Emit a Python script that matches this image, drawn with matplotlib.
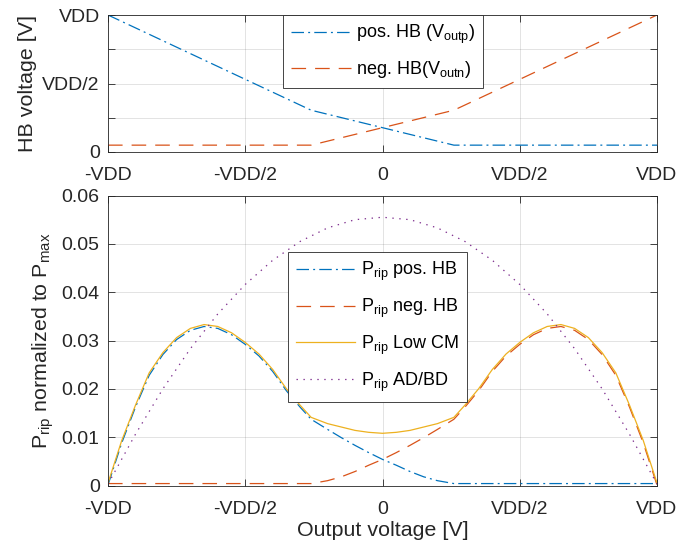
import matplotlib
matplotlib.use('Agg')
import matplotlib.pyplot as plt

# --- data ----------------------------------------------------------------
# upper plot: half-bridge voltages, normalised to VDD
x_hb = [-1.0, -0.26, 0.26, 1.0]
v_outp = [1.0, 0.305, 0.05, 0.05]
v_outn = [0.05, 0.05, 0.305, 1.0]

# lower plot: ripple power normalised to P_max
x_rip = [-1.00, -0.95, -0.90, -0.85, -0.80, -0.75, -0.70, -0.65, -0.60,
         -0.55, -0.50, -0.45, -0.40, -0.35, -0.30, -0.26, -0.20, -0.15,
         -0.10, -0.05, 0.00, 0.05, 0.10, 0.15, 0.20, 0.26, 0.30, 0.35,
         0.40, 0.45, 0.50, 0.55, 0.60, 0.65, 0.70, 0.75, 0.80, 0.85,
         0.90, 0.95, 1.00]
p_pos_hb = [0.0001, 0.0088, 0.0162, 0.0228, 0.0271, 0.0302, 0.0321, 0.0329,
            0.0325, 0.0312, 0.0292, 0.0268, 0.0236, 0.0196, 0.0162, 0.0137,
            0.0116, 0.0099, 0.0083, 0.0068, 0.0054, 0.0042, 0.0029, 0.0018,
            0.0010, 0.0004, 0.0004, 0.0004, 0.0004, 0.0004, 0.0004, 0.0004,
            0.0004, 0.0004, 0.0004, 0.0004, 0.0004, 0.0004, 0.0004, 0.0004,
            0.0004]
p_neg_hb = [0.0004, 0.0004, 0.0004, 0.0004, 0.0004, 0.0004, 0.0004, 0.0004,
            0.0004, 0.0004, 0.0004, 0.0004, 0.0004, 0.0004, 0.0004, 0.0004,
            0.0010, 0.0018, 0.0029, 0.0042, 0.0054, 0.0068, 0.0083, 0.0099,
            0.0116, 0.0137, 0.0162, 0.0196, 0.0236, 0.0268, 0.0292, 0.0312,
            0.0325, 0.0329, 0.0321, 0.0302, 0.0271, 0.0228, 0.0162, 0.0088,
            0.0001]
p_low_cm = [0.0005, 0.0093, 0.0166, 0.0233, 0.0275, 0.0306, 0.0325, 0.0333,
            0.0329, 0.0316, 0.0296, 0.0272, 0.0240, 0.0200, 0.0166, 0.0141,
            0.0128, 0.0121, 0.0114, 0.0110, 0.0108, 0.0110, 0.0114, 0.0121,
            0.0128, 0.0141, 0.0166, 0.0200, 0.0240, 0.0272, 0.0296, 0.0316,
            0.0329, 0.0333, 0.0325, 0.0306, 0.0275, 0.0233, 0.0166, 0.0093,
            0.0005]
x_adbd = [-1.0, -0.9, -0.8, -0.7, -0.6, -0.5, -0.4, -0.3, -0.2, -0.1, 0.0,
          0.1, 0.2, 0.3, 0.4, 0.5, 0.6, 0.7, 0.8, 0.9, 1.0]
p_adbd = [0.0003, 0.0106, 0.0200, 0.0283, 0.0355, 0.0416, 0.0466, 0.0505,
          0.0533, 0.0550, 0.0555, 0.0550, 0.0533, 0.0505, 0.0466, 0.0416,
          0.0355, 0.0283, 0.0200, 0.0106, 0.0003]

x_ticks = [-1.0, -0.5, 0.0, 0.5, 1.0]
x_ticklabels = ['-VDD', '-VDD/2', '0', 'VDD/2', 'VDD']
hb_ticks = [0.0, 0.25, 0.5, 0.75, 1.0]
hb_ticklabels = ['0', '', 'VDD/2', '', 'VDD']
rip_ticks = [0.0, 0.01, 0.02, 0.03, 0.04, 0.05, 0.06]
rip_ticklabels = ['0', '0.01', '0.02', '0.03', '0.04', '0.05', '0.06']

# --- style (MATLAB look) -------------------------------------------------
plt.rcParams['font.family'] = ['Liberation Sans', 'DejaVu Sans']
plt.rcParams['mathtext.fontset'] = 'custom'
plt.rcParams['mathtext.rm'] = 'Liberation Sans'
plt.rcParams['mathtext.it'] = 'Liberation Sans:italic'
plt.rcParams['lines.scale_dashes'] = False

DARK = '#262626'
BLUE = '#0072BD'
ORANGE = '#D95319'
YELLOW = '#EDB120'
PURPLE = '#7E2F8E'
LW = 0.9
DASHDOT = (9.0, 3.0, 1.4, 3.0)
DASHED = (10.5, 6.5)
DOTTED = (1.0, 4.0)


def style_axes(ax):
    for s in ax.spines.values():
        s.set_linewidth(0.6)
        s.set_color(DARK)
    ax.tick_params(direction='in', top=True, right=True, length=5,
                   width=0.6, colors=DARK, labelsize=14)
    ax.tick_params(axis='x', pad=11)
    ax.tick_params(axis='y', pad=6)
    ax.grid(True, color=DARK, alpha=0.15, linewidth=0.6)
    ax.set_axisbelow(True)
    ax.set_xlim(-1, 1)
    ax.set_xticks(x_ticks)
    ax.set_xticklabels(x_ticklabels)


fig = plt.figure(figsize=(6.91, 5.48), dpi=100)
ax1 = fig.add_axes([108 / 691, 1 - 152 / 548, 549 / 691, 137 / 548])
ax2 = fig.add_axes([108 / 691, 1 - 485.5 / 548, 549 / 691, 290 / 548])

# upper plot
ax1.plot(x_hb, v_outp, color=BLUE, lw=LW, dashes=DASHDOT,
         label=r'pos. HB (V$_{\rm outp}$)')
ax1.plot(x_hb, v_outn, color=ORANGE, lw=LW, dashes=DASHED,
         label=r'neg. HB(V$_{\rm outn}$)')
style_axes(ax1)
ax1.set_ylim(0, 1)
ax1.set_yticks(hb_ticks)
ax1.set_yticklabels(hb_ticklabels)
ax1.set_ylabel('HB voltage [V]', fontsize=15.4, color=DARK, labelpad=4)

leg_kw = dict(loc='upper left', borderaxespad=0, fontsize=13,
              handlelength=3.3, handletextpad=0.3, borderpad=0.45,
              fancybox=False, framealpha=1, edgecolor=DARK)
leg1 = ax1.legend(bbox_to_anchor=((283 - 108) / 549, 1.0),
                  labelspacing=0.72, **leg_kw)
leg1.get_frame().set_linewidth(0.6)

# lower plot
ax2.plot(x_rip, p_pos_hb, color=BLUE, lw=LW, dashes=DASHDOT,
         label=r'P$_{\rm rip}$ pos. HB')
ax2.plot(x_rip, p_neg_hb, color=ORANGE, lw=LW, dashes=DASHED,
         label=r'P$_{\rm rip}$ neg. HB')
ax2.plot(x_rip, p_low_cm, color=YELLOW, lw=LW, label=r'P$_{\rm rip}$ Low CM')
ax2.plot(x_adbd, p_adbd, color=PURPLE, lw=LW, dashes=DOTTED,
         label=r'P$_{\rm rip}$ AD/BD')
style_axes(ax2)
ax2.set_ylim(0, 0.06)
ax2.set_yticks(rip_ticks)
ax2.set_yticklabels(rip_ticklabels)
ax2.set_ylabel(r'P$_{\rm rip}$ normalized to P$_{\rm max}$', fontsize=15.4,
               color=DARK, labelpad=4)
ax2.set_xlabel('Output voltage [V]', fontsize=15.4, color=DARK, labelpad=2)

leg2 = ax2.legend(bbox_to_anchor=((287.5 - 108) / 549, (485.5 - 252) / 290),
                  labelspacing=0.75, **leg_kw)
leg2.get_frame().set_linewidth(0.6)

fig.savefig('out.png', dpi=100)
